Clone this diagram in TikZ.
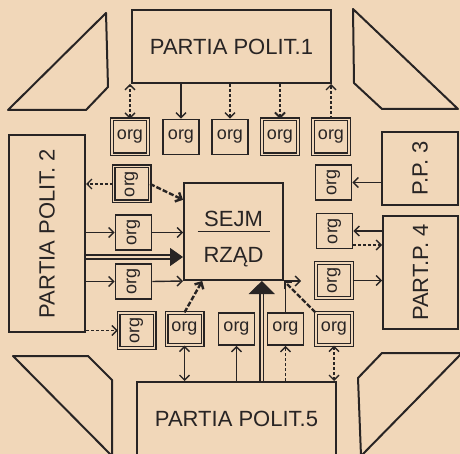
\documentclass[tikz,border=0pt]{standalone}
\usepackage{fontspec}
\setmainfont{Liberation Sans}
\usetikzlibrary{arrows.meta,positioning,calc}
\usepackage{xcolor}
\definecolor{paper}{RGB}{241,215,185}
\definecolor{inkc}{RGB}{40,36,36}
\newcommand{\partyfont}{\fontsize{22}{24}\selectfont}
\newcommand{\orgfont}{\fontsize{18}{20}\selectfont}

\tikzset{
  >={Straight Barb[length=5pt,width=10pt]},
  box/.style={draw=inkc, line width=2pt, inner sep=0pt, text=inkc},
  party/.style={box, font=\partyfont},
  sorg/.style={box, line width=1.6pt, minimum width=36pt, minimum height=35pt, font=\orgfont},
  dorg/.style={sorg, double=paper, double distance=1.6pt, line width=1.2pt},
  link/.style={draw=inkc, line width=1.4pt},
  dlink/.style={link, dash pattern=on 3pt off 2pt},
  heavy/.style={draw=inkc, line width=2.4pt, dash pattern=on 5pt off 2pt},
  bigarrow/.style={draw=inkc, line width=1.4pt, double=paper, double distance=2.4pt, -{Triangle[length=13pt,width=18pt]}},
}

\begin{document}
\begin{tikzpicture}[x=1pt,y=-1pt]
  \fill[paper] (0,0) rectangle (460,454);
  \useasboundingbox (0,0) rectangle (460,454);
  % corner blocks
  \draw[link,line width=2pt,line join=round] (8,110) -- (86,110) -- (108,87) -- (106,13) -- cycle;
  \draw[link,line width=2pt,line join=round] (353,9) -- (354,83) -- (382,109) -- (458,109) -- cycle;
  \draw[link,line width=2pt,line join=round] (13,356) -- (88,356) -- (112,380) -- (112,456) -- cycle;
  \draw[link,line width=2pt,line join=round] (382,353) -- (462,353) -- (361,456) -- (358,378) -- cycle;

  % parties and parliament
  \node[party, minimum width=199pt, minimum height=73pt] (P1) at (231.5,46.5) {PARTIA POLIT.1};
  \node[party, minimum width=76pt, minimum height=197pt] (P2) at (47,233.5) {\rotatebox{90}{PARTIA POLIT. 2}};
  \node[party, minimum width=76pt, minimum height=73pt] (P3) at (420,168.5) {\rotatebox{90}{P.P. 3}};
  \node[party, minimum width=75pt, minimum height=113pt] (P4) at (420.5,272.5) {\rotatebox{90}{PART.P. 4}};
  \node[party, minimum width=199pt, minimum height=74pt] (P5) at (236.5,419) {PARTIA POLIT.5};
  \node[party, minimum width=99pt, minimum height=97pt] (SEJM) at (233.5,231.5)
    {\smash{\raisebox{-12.5pt}{\parbox{80pt}{\centering SEJM\\[-18pt]\rule{72pt}{1.3pt}\\[6pt]RZĄD}}}};

  % org boxes
  \foreach \n/\x/\s in {T1/130/dorg,T2/181/sorg,T3/230/sorg,T4/280/dorg,T5/331/dorg}
    \node[\s] (\n) at (\x,137) {org};
  \foreach \n/\x/\y/\s in {L1/131.5/184/dorg,L2/133.5/232.5/sorg,L3/133.5/281.5/sorg,L4/136.5/330.5/dorg,
                           R1/333.5/182.5/sorg,R2/334.5/231/sorg,R3/334/280.5/dorg}
    \node[\s] (\n) at (\x,\y) {\rotatebox{90}{org}};
  \foreach \n/\x/\s in {B1/184.5/dorg,B2/236.5/sorg,B3/285.5/sorg,B4/334/dorg}
    \node[\s, minimum height=32pt] (\n) at (\x,329) {org};

  % top
  \draw[dlink,<->] (T1.north) -- (T1.north |- P1.south);
  \draw[link,->] (T2.north |- P1.south) -- (T2.north);
  \draw[dlink,->] (T3.north |- P1.south) -- (T3.north);
  \draw[dlink,->,line width=2pt] (T4.north |- P1.south) -- (T4.north);
  \draw[dlink,->] (T5.north) -- (T5.north |- P1.south);

  % left
  \coordinate (s1) at ($(SEJM.north west)!0.18!(SEJM.south west)$);
  \coordinate (s2) at ([yshift=-25.5pt]SEJM.west);
  \draw[dlink,->] (L1.west) -- (L1.west -| P2.east);
  \draw[heavy,->] (L1.east) -- (s1);
  \draw[link,->] (L2.west -| P2.east) -- (L2.west);
  \draw[link,->] (L2.east) -- (L2.east -| SEJM.west);
  \draw[bigarrow] (s2 -| P2.east) -- (s2);
  \draw[link,->] (L3.west -| P2.east) -- (L3.west);
  \draw[link,->] (L3.east) -- (SEJM.south west);
  \draw[dlink,->] (L4.west -| P2.east) -- (L4.west);

  % bottom
  \coordinate (s3) at ($(SEJM.south west)!0.19!(SEJM.south east)$);
  \coordinate (s4) at ($(SEJM.south west)!0.78!(SEJM.south east)$);
  \coordinate (s5) at ([xshift=17pt]SEJM.south east);
  \draw[heavy,->] (B1.north) -- (s3);
  \draw[link,<->] (B1.south) -- (B1.south |- P5.north);
  \draw[link,->] (B2.south |- P5.north) -- (B2.south);
  \draw[bigarrow,-{Triangle[length=13pt,width=26pt]}] (s4 |- P5.north) -- (s4);
  \draw[link] (B3.north) -- (B3.north |- SEJM.south);
  \draw[dlink,->] (B3.south |- P5.north) -- (B3.south);
  \draw[heavy,->] (B4.north west) -- (SEJM.south east);
  \draw[dlink,<->] (B4.south) -- (B4.south |- P5.north);
  \draw[link,->] (SEJM.south east) -- (s5);

  % right
  \coordinate (r2) at ([yshift=-14pt]R2.east);
  \draw[link,->] (R1.east -| P3.west) -- (R1.east);
  \draw[link,->] (R2.east -| P4.west) -- (R2.east);
  \draw[dlink,->] (r2) -- (r2 -| P4.west);
  \draw[link,->] (R3.east) -- (R3.east -| P4.west);
\end{tikzpicture}
\end{document}
